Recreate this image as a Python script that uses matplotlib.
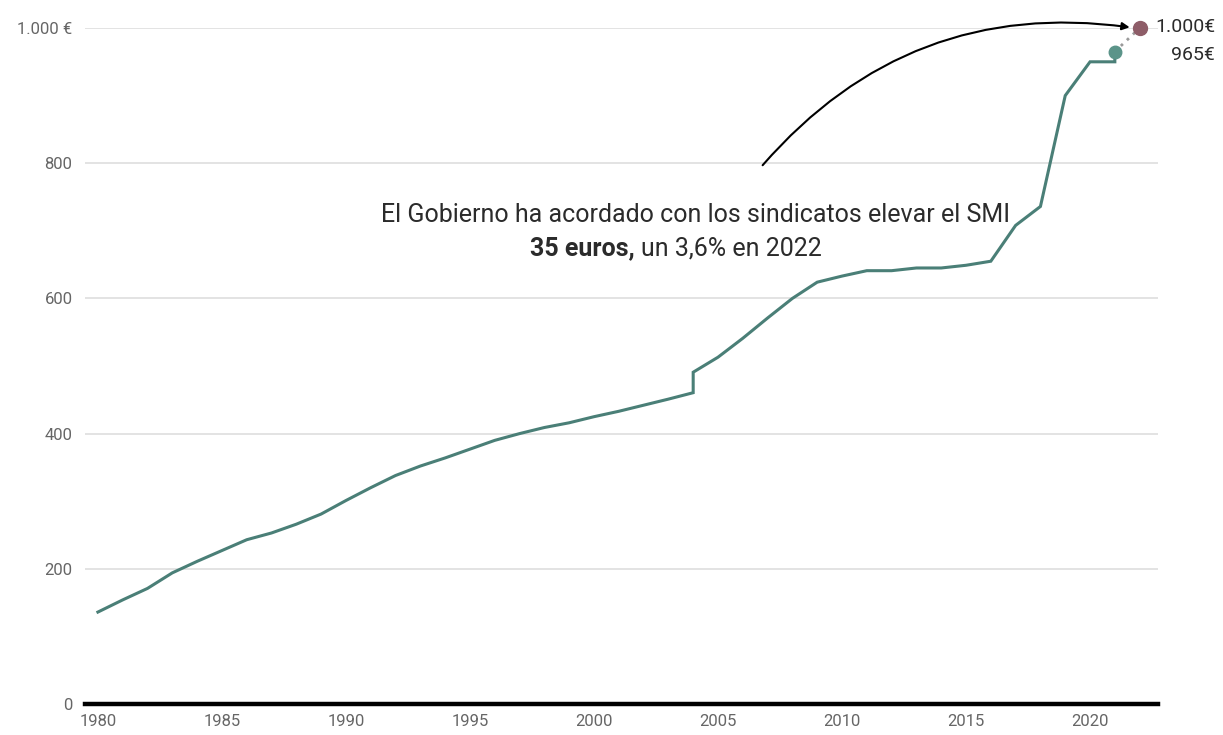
import numpy as np
import matplotlib
matplotlib.use("Agg")
import matplotlib.pyplot as plt
from matplotlib.transforms import blended_transform_factory

# datos: salario minimo interprofesional (euros/mes)
years = [1980, 1981, 1982, 1983, 1984, 1985, 1986, 1987, 1988, 1989,
         1990, 1991, 1992, 1993, 1994, 1995, 1996, 1997, 1998, 1999,
         2000, 2001, 2002, 2003, 2004, 2004, 2005, 2006, 2007, 2008,
         2009, 2010, 2011, 2012, 2013, 2014, 2015, 2016, 2017, 2018,
         2019, 2020, 2021, 2021]
smi = [136, 154, 171, 194, 211, 227, 243, 253, 266, 281,
       301, 320, 338, 352, 364, 377, 390, 400, 409, 416,
       425, 433, 442, 451, 460.5, 490.8, 513, 541, 571, 600,
       624, 633, 641, 641, 645, 645, 649, 655, 708, 736,
       900, 950, 950, 965]
year_2022 = 2022
smi_2022 = 1000
yticks = [0, 200, 400, 600, 800, 1000]
ylabels = ["0", "200", "400", "600", "800", "1.000 €"]
xticks = [1980, 1985, 1990, 1995, 2000, 2005, 2010, 2015, 2020]

plt.rcParams["font.family"] = ["Roboto", "DejaVu Sans"]

fig = plt.figure(figsize=(12.23, 7.35), dpi=100)
ax = fig.add_axes([85 / 1223, 31 / 735, 1073 / 1223, 676 / 735])

# grid
for v in yticks[1:]:
    ax.axhline(v, color="#e3e3e3", lw=1.4, zorder=0)
ax.axhline(0, color="black", lw=3.2, zorder=1, clip_on=False)

# linea principal
ax.plot(years, smi, color="#4a7f77", lw=2.2, zorder=3, solid_joinstyle="miter")
ax.plot([years[-1], year_2022], [smi[-1], smi_2022], color="#9a9a9a",
        lw=2, ls=(0, (1, 2)), zorder=2)
ax.plot(years[-1], smi[-1], "o", color="#5b9489", ms=9, zorder=4)
ax.plot(year_2022, smi_2022, "o", color="#8e5d68", ms=10, zorder=4, clip_on=False)

# flecha de anotacion
ax.annotate("", xy=(2021.6, 1001), xytext=(2006.8, 797), annotation_clip=False,
            arrowprops=dict(arrowstyle="-|>", color="black", lw=1.5,
                            connectionstyle="arc3,rad=-0.27",
                            mutation_scale=11, shrinkA=0, shrinkB=0))

ax.text(2004.1, 723, "El Gobierno ha acordado con los sindicatos elevar el SMI",
        ha="center", va="center", fontsize=18, color="#2b2b2b")
ax.text(2001.65, 674, "35 euros,", ha="right", va="center", fontsize=18,
        color="#2b2b2b", fontweight="bold")
ax.text(2001.9, 674, "un 3,6% en 2022", ha="left", va="center", fontsize=18,
        color="#2b2b2b")

# etiquetas de la derecha
tr = blended_transform_factory(fig.transFigure, ax.transData)
ax.text(1215 / 1223, smi_2022 + 2, "1.000€", transform=tr, ha="right",
        va="center", fontsize=14, color="#2b2b2b")
ax.text(1215 / 1223, smi[-1] - 5, "965€", transform=tr, ha="right",
        va="center", fontsize=14, color="#2b2b2b")

ax.set_xlim(1979.48, 2022.74)
ax.set_ylim(0, 1000)
ax.set_yticks(yticks)
ax.set_yticklabels(ylabels)
ax.set_xticks(xticks)
ax.tick_params(axis="both", length=0, labelsize=12, colors="#666666")
ax.tick_params(axis="y", pad=9)
ax.tick_params(axis="x", pad=7)
for s in ax.spines.values():
    s.set_visible(False)

fig.savefig("out.png", dpi=100)
